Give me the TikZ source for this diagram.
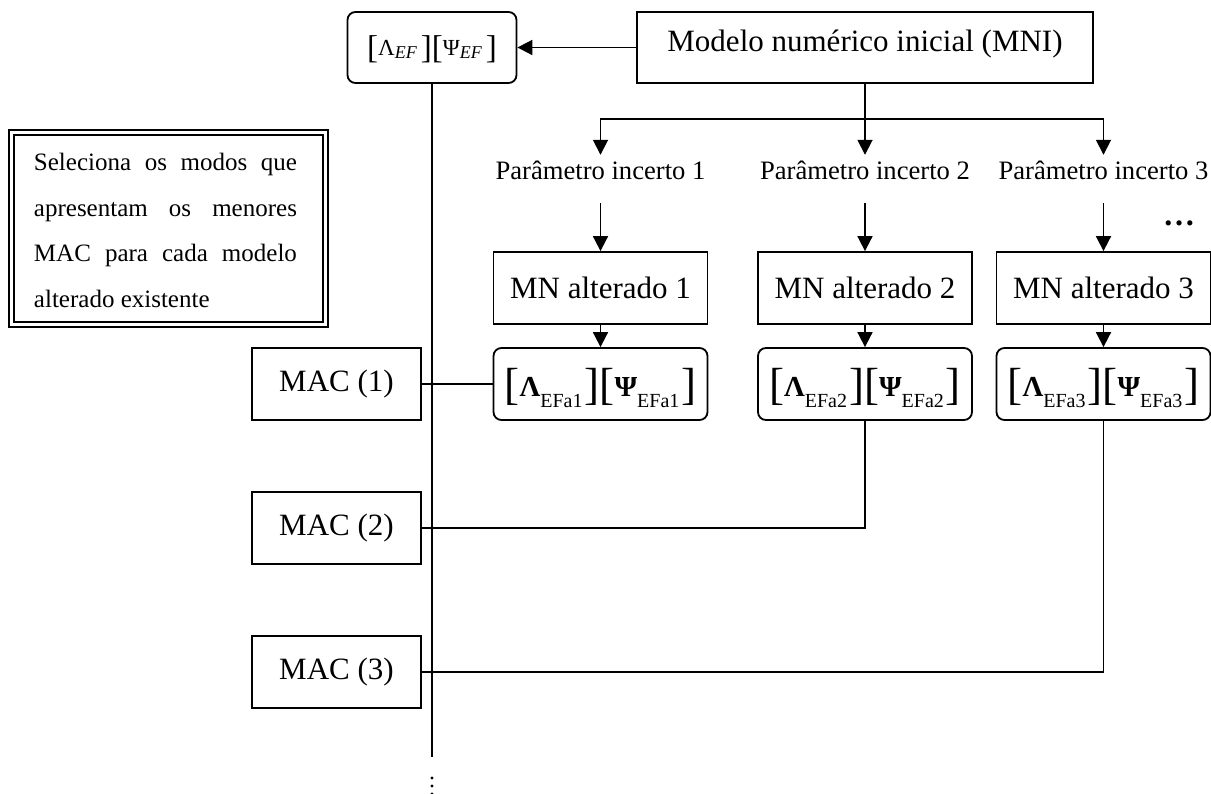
\documentclass[tikz,border=0pt]{standalone}
\usepackage{fontspec}
\setmainfont{Liberation Serif}
\usetikzlibrary{positioning}
\usetikzlibrary{arrows.meta}

\newcommand{\modal}[2]{\raisebox{-2pt}{\fontsize{45}{45}\selectfont[}\textbf{#1}\raisebox{-10pt}{\fontsize{20}{20}\selectfont #2}\hspace{2pt}\raisebox{-2pt}{\fontsize{45}{45}\selectfont]}}
\newcommand{\modalef}[1]{\raisebox{-3pt}{\fontsize{33}{33}\selectfont[}#1\raisebox{-3pt}{\fontsize{18}{18}\selectfont\itshape EF}\hspace{4pt}\raisebox{-3pt}{\fontsize{33}{33}\selectfont]}}

\begin{document}
\begin{tikzpicture}[x=1pt,y=-1pt,on grid,
	conn/.style={line width=1.8pt},
	arr/.style={conn,-{Triangle[length=15pt,width=15pt]}},
	box/.style={draw,line width=1.8pt,minimum width=214pt,minimum height=72pt,inner sep=0pt,font=\fontsize{31}{31}\selectfont},
	rbox/.style={box,rounded corners=8pt,text height=36pt,text depth=10pt,font=\fontsize{29}{29}\selectfont},
	macbox/.style={box,minimum width=169pt},
	param/.style={inner sep=0pt,text height=25pt,text depth=23pt,font=\fontsize{26.6}{26.6}\selectfont}]
	\useasboundingbox (0,0) rectangle (1211,794);
	% top row
	\node[box,rounded corners=8pt,minimum width=169pt,minimum height=71pt,text height=25pt,text depth=9pt,font=\fontsize{23}{23}\selectfont] (ef) at (432,47.5) {\modalef{Λ}\modalef{Ψ}};
	\node[box,minimum width=456pt,minimum height=71pt,text height=22pt,text depth=13pt] (mni) at (865,47.5) {Modelo numérico inicial (MNI)};
	% altered models
	\node[box] (alt1) at (600.5,288) {MN alterado 1};
	\node[box] (alt2) [right=264.5pt of alt1] {MN alterado 2};
	\node[box] (alt3) [right=238.5pt of alt2] {MN alterado 3};
	\node[param] (p1) [above=109pt of alt1] {Parâmetro incerto 1};
	\node[param] (p2) [above=109pt of alt2] {Parâmetro incerto 2};
	\node[param] (p3) [above=109pt of alt3] {Parâmetro incerto 3};
	\node[rbox] (efa1) [below=96pt of alt1] {\modal{Λ}{EFa1}\modal{Ψ}{EFa1}};
	\node[rbox] (efa2) [below=96pt of alt2] {\modal{Λ}{EFa2}\modal{Ψ}{EFa2}};
	\node[rbox] (efa3) [below=96pt of alt3] {\modal{Λ}{EFa3}\modal{Ψ}{EFa3}};
	\node[inner sep=0pt,font=\bfseries\fontsize{32}{32}\selectfont,anchor=base] (more) at (1179,226) {…};
	% MAC boxes
	\node[macbox] (mac1) at (336.5,384) {MAC (1)};
	\node[macbox] (mac2) [below=144pt of mac1] {MAC (2)};
	\node[macbox] (mac3) [below=144pt of mac2] {MAC (3)};
	% selection note
	\draw[line width=1.2pt] (9,130) rectangle (328,327);
	\draw[line width=2.8pt] (14,135) rectangle (323,322);
	\node[inner sep=0pt,text width=263pt,align=justify,anchor=north,font=\fontsize{25}{45.6}\selectfont] (note) at (165.5,153) {\noindent Seleciona os modos que apresentam os menores MAC para cada modelo alterado existente};
	% connectors
	\coordinate (split) at (865,119);
	\coordinate (vend) at (432,757);
	\draw[arr] (mni) -- (ef);
	\draw[conn] (mni) -- (split);
	\draw[arr] (split) -| (p1);
	\draw[arr] (split) -- (p2);
	\draw[arr] (split) -| (p3);
	\foreach \i in {1,2,3} {
		\draw[arr] (p\i) -- (alt\i);
		\draw[arr] (alt\i) -- (efa\i);
	}
	\draw[conn] (ef) -- (vend);
	\draw[conn] (mac1) -- (efa1);
	\draw[conn] (mac2) -| (efa2);
	\draw[conn] (mac3) -| (efa3);
	% continuation dots
	\foreach \d in {21,29,37}
		\fill (vend) ++(0,\d) circle (1.6pt);
\end{tikzpicture}
\end{document}
